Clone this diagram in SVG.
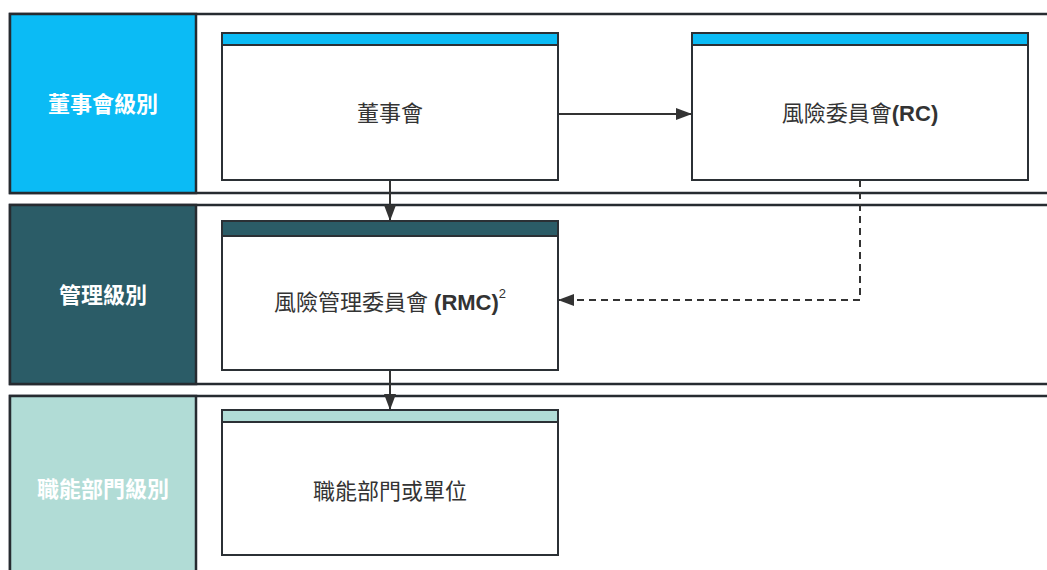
<svg xmlns="http://www.w3.org/2000/svg" width="1047" height="570" viewBox="0 0 1047 570">
<style>
.band{fill:#fff;stroke:#262b30;stroke-width:2.5}
.lab{stroke:#262b30;stroke-width:2.5}
.ltxt{font-family:"Liberation Sans","Noto Sans CJK TC",sans-serif;font-size:22px;font-weight:bold;fill:#fff;text-anchor:middle;dominant-baseline:central}
.box{fill:#fff;stroke:#2b3035;stroke-width:2}
.hdr{stroke:#2b3035;stroke-width:2}
.btxt{font-family:"Liberation Sans","Noto Sans CJK TC",sans-serif;font-size:22px;fill:#333;text-anchor:middle;dominant-baseline:central}
.b{font-weight:bold}
.con{fill:none;stroke:#333;stroke-width:2}
</style>
<defs>
<marker id="ah" viewBox="0 0 16 12" refX="16" refY="6" markerWidth="16" markerHeight="12" markerUnits="userSpaceOnUse" orient="auto">
<path d="M0,0 L16,6 L0,12 z" fill="#333"/>
</marker>
</defs>
<rect width="1047" height="570" fill="#fff"/>
<g id="band-board">
<rect class="band" x="10" y="14" width="1060" height="179"/>
<rect class="lab" x="10" y="14" width="186" height="179" fill="#0bbbf5"/>
<text class="ltxt" x="103" y="104">董事會級別</text>
</g>
<g id="band-mgmt">
<rect class="band" x="10" y="205" width="1060" height="179"/>
<rect class="lab" x="10" y="205" width="186" height="179" fill="#2b5c67"/>
<text class="ltxt" x="103" y="295">管理級別</text>
</g>
<g id="band-func">
<rect class="band" x="10" y="396" width="1060" height="200"/>
<rect class="lab" x="10" y="396" width="186" height="200" fill="#b1dcd6"/>
<text class="ltxt" x="103" y="489">職能部門級別</text>
</g>
<g id="connectors">
<line class="con" x1="558" y1="114" x2="692" y2="114" marker-end="url(#ah)"/>
<line class="con" x1="390" y1="180" x2="390" y2="221" marker-end="url(#ah)"/>
<line class="con" x1="390" y1="370" x2="390" y2="410" marker-end="url(#ah)"/>
<polyline class="con" points="860,180 860,300 558,300" stroke-dasharray="7,5" marker-end="url(#ah)"/>
</g>
<g id="node-board">
<rect class="box" x="222" y="33" width="336" height="147"/>
<rect class="hdr" x="222" y="33" width="336" height="12" fill="#0bbbf5"/>
<text class="btxt" x="390" y="113">董事會</text>
</g>
<g id="node-rc">
<rect class="box" x="692" y="33" width="336" height="147"/>
<rect class="hdr" x="692" y="33" width="336" height="12" fill="#0bbbf5"/>
<text class="btxt" x="860" y="113">風險委員會<tspan class="b">(RC)</tspan></text>
</g>
<g id="node-rmc">
<rect class="box" x="222" y="221" width="336" height="149"/>
<rect class="hdr" x="222" y="221" width="336" height="15" fill="#2b5c67"/>
<text class="btxt" x="390" y="302">風險管理委員會 <tspan class="b">(RMC)</tspan><tspan font-size="13" dy="-9">2</tspan></text>
</g>
<g id="node-func">
<rect class="box" x="222" y="410" width="336" height="145"/>
<rect class="hdr" x="222" y="410" width="336" height="12" fill="#b1dcd6"/>
<text class="btxt" x="390" y="491">職能部門或單位</text>
</g>
</svg>
